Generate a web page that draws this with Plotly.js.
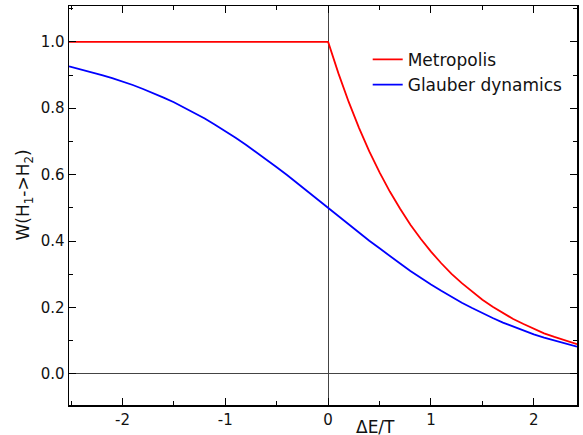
<!DOCTYPE html>
<html><head><meta charset="utf-8">
<script src="https://cdn.plot.ly/plotly-3.0.1.min.js"></script>
<style>body{margin:0;background:#fff}#c{width:583px;height:435px}</style>
</head><body><div id="c"></div>
<script>
const metroX = [-2.6, 0, 0.1, 0.2, 0.3, 0.4, 0.5, 0.6, 0.7, 0.8, 0.9, 1.0, 1.1, 1.2, 1.3, 1.4, 1.5, 1.6, 1.7, 1.8, 1.9, 2.0, 2.1, 2.2, 2.3, 2.4, 2.42];
const metroY = [1.0, 1.0, 0.905, 0.819, 0.741, 0.670, 0.607, 0.549, 0.497, 0.449, 0.407, 0.368, 0.333, 0.301, 0.273, 0.247, 0.223, 0.202, 0.183, 0.165, 0.150, 0.135, 0.122, 0.111, 0.100, 0.091, 0.089];
const glauberX = [-2.52, -2.4, -2.3, -2.2, -2.1, -2.0, -1.9, -1.8, -1.7, -1.6, -1.5, -1.4, -1.3, -1.2, -1.1, -1.0, -0.9, -0.8, -0.7, -0.6, -0.5, -0.4, -0.3, -0.2, -0.1, 0, 0.1, 0.2, 0.3, 0.4, 0.5, 0.6, 0.7, 0.8, 0.9, 1.0, 1.1, 1.2, 1.3, 1.4, 1.5, 1.6, 1.7, 1.8, 1.9, 2.0, 2.1, 2.2, 2.3, 2.4, 2.42];
const glauberY = [0.926, 0.917, 0.909, 0.900, 0.891, 0.881, 0.870, 0.858, 0.846, 0.832, 0.818, 0.802, 0.786, 0.769, 0.750, 0.731, 0.711, 0.690, 0.668, 0.646, 0.622, 0.599, 0.574, 0.550, 0.525, 0.500, 0.475, 0.450, 0.426, 0.401, 0.378, 0.354, 0.332, 0.310, 0.289, 0.269, 0.250, 0.231, 0.214, 0.198, 0.182, 0.168, 0.154, 0.142, 0.130, 0.119, 0.109, 0.100, 0.091, 0.083, 0.082];
const seriesNames = ["Metropolis", "Glauber dynamics"];
const xTickVals = [-2, -1, 0, 1, 2];
const xTickText = ["-2", "-1", "0", "1", "2"];
const yTickVals = [0, 0.2, 0.4, 0.6, 0.8, 1.0];
const yTickText = ["0.0", "0.2", "0.4", "0.6", "0.8", "1.0"];
const xTitle = "ΔE/T";
const yTitle = "W(H<sub>1</sub>->H<sub>2</sub>)";

const font = "DejaVu Sans, sans-serif";
const traces = [
  {x: metroX, y: metroY, name: seriesNames[0], mode: "lines", line: {color: "#ff0000", width: 1.8}},
  {x: glauberX, y: glauberY, name: seriesNames[1], mode: "lines", line: {color: "#0000ff", width: 1.8}}
];
const axisCommon = {
  showline: true, linecolor: "#000", linewidth: 1.5, mirror: "allticks",
  ticks: "inside", ticklen: 7, tickwidth: 1, tickcolor: "#000",
  showgrid: false, zeroline: true, zerolinecolor: "#444", zerolinewidth: 1,
  tickmode: "array",
  tickfont: {family: font, size: 15, color: "#111"}
};
const layout = {
  width: 583, height: 435,
  margin: {l: 69, r: 6, t: 6, b: 30},
  paper_bgcolor: "#fff", plot_bgcolor: "#fff",
  showlegend: true,
  legend: {x: 0.588, y: 0.91, xanchor: "left", yanchor: "top", bgcolor: "rgba(0,0,0,0)",
           font: {family: font, size: 17, color: "#111"}, tracegroupgap: 0},
  xaxis: Object.assign({}, axisCommon, {range: [-2.52, 2.42], tickvals: xTickVals, ticktext: xTickText,
           minor: {ticks: "inside", ticklen: 4, dtick: 0.5, tick0: 0, tickcolor: "#000", showgrid: false}}),
  yaxis: Object.assign({}, axisCommon, {range: [-0.094, 1.108], tickvals: yTickVals, ticktext: yTickText,
           minor: {ticks: "inside", ticklen: 4, dtick: 0.1, tick0: 0, tickcolor: "#000", showgrid: false}}),
  annotations: [
    {text: xTitle, xref: "paper", yref: "paper", x: (375 - 69) / 508, y: -0.056, xanchor: "center", yanchor: "middle",
     showarrow: false, font: {family: font, size: 17, color: "#111"}},
    {text: yTitle, xref: "paper", yref: "paper", x: -0.087, y: 0.527, xanchor: "center", yanchor: "middle", textangle: -90,
     showarrow: false, font: {family: font, size: 17, color: "#111"}}
  ]
};
Plotly.newPlot("c", traces, layout, {displayModeBar: false, staticPlot: true});
</script></body></html>
